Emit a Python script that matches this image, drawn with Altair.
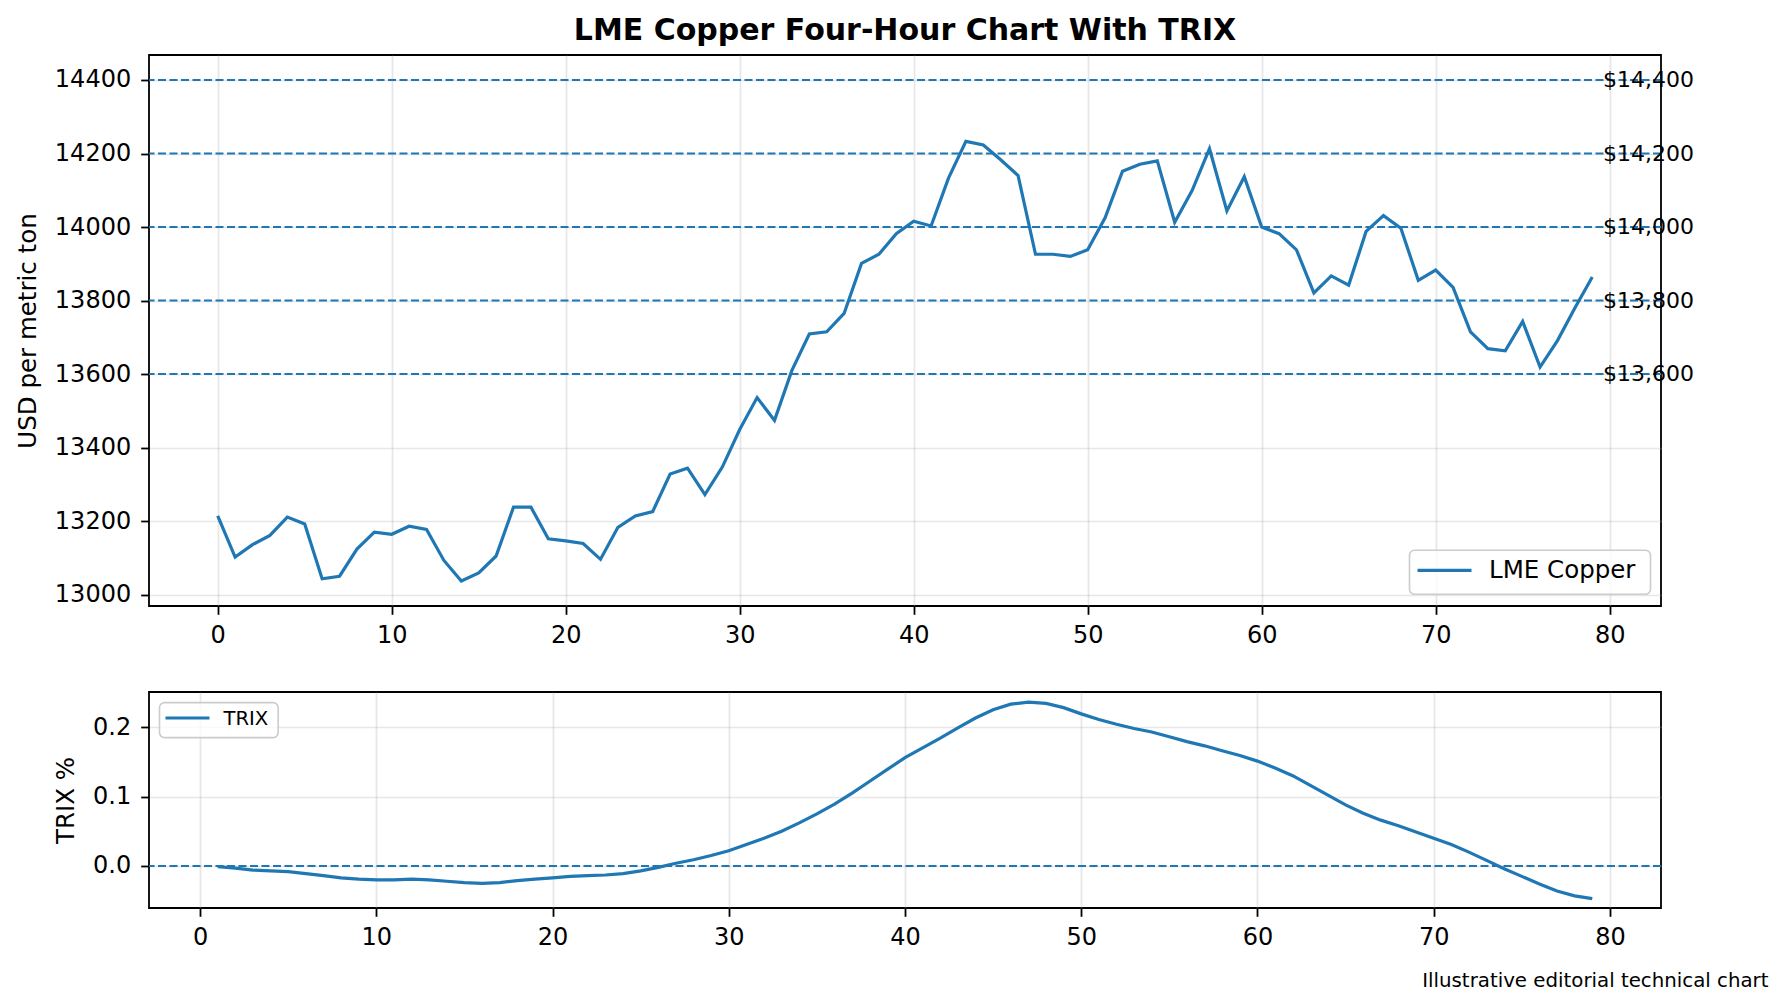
import altair as alt
import pandas as pd

# ---------------- data ----------------
price = [13214, 13102, 13136, 13161, 13211, 13192, 13043, 13050, 13124, 13170,
         13164, 13186, 13177, 13093, 13037, 13059, 13105, 13238, 13238, 13152,
         13146, 13139, 13096, 13183, 13214, 13226, 13328, 13344, 13272, 13347,
         13449, 13536, 13474, 13610, 13709, 13715, 13765, 13901, 13926, 13982,
         14016, 14003, 14133, 14233, 14223, 14183, 14140, 13926, 13926, 13920,
         13938, 14025, 14152, 14171, 14180, 14013, 14099, 14213, 14044, 14137,
         14000, 13982, 13938, 13821, 13867, 13842, 13988, 14031, 13997, 13855,
         13883, 13836, 13715, 13669, 13663, 13743, 13619, 13691, 13780, 13864]
price_idx = list(range(len(price)))

trix = [-0.001, -0.003, -0.006, -0.007, -0.008, -0.011, -0.014, -0.017, -0.019, -0.020,
        -0.020, -0.019, -0.020, -0.022, -0.024, -0.025, -0.024, -0.021, -0.019, -0.017,
        -0.015, -0.014, -0.013, -0.011, -0.007, -0.002, 0.004, 0.009, 0.015, 0.022,
        0.031, 0.040, 0.050, 0.062, 0.075, 0.089, 0.105, 0.122, 0.139, 0.156,
        0.170, 0.184, 0.199, 0.213, 0.225, 0.233, 0.236, 0.234, 0.228, 0.219,
        0.211, 0.204, 0.198, 0.193, 0.186, 0.179, 0.173, 0.166, 0.159, 0.151,
        0.141, 0.130, 0.116, 0.102, 0.088, 0.076, 0.066, 0.058, 0.049, 0.040,
        0.031, 0.020, 0.008, -0.004, -0.015, -0.026, -0.036, -0.043, -0.047]
trix_idx = list(range(1, len(trix) + 1))

levels = [13600, 13800, 14000, 14200, 14400]
zero_level = [0.0]

x_ticks = [0, 10, 20, 30, 40, 50, 60, 70, 80]
price_ticks = [13000, 13200, 13400, 13600, 13800, 14000, 14200, 14400]
trix_ticks = [0.0, 0.1, 0.2]

title_text = "LME Copper Four-Hour Chart With TRIX"
price_series = "LME Copper"
trix_series = "TRIX"
price_axis_title = "USD per metric ton"
trix_axis_title = "TRIX %"
caption_text = "Illustrative editorial technical chart"

# ---------------- style ----------------
BLUE = "#1f77b4"
FONT = "DejaVu Sans"
W = 1512
H1 = 551
H2 = 216
TICK_FS = 24
AXTITLE_FS = 24.5

price_df = pd.DataFrame({"i": price_idx, "price": price})
trix_df = pd.DataFrame({"i": trix_idx, "trix": trix})
levels_df = pd.DataFrame({"level": levels})
zero_df = pd.DataFrame({"level": zero_level})


def x_axis():
    return alt.Axis(values=x_ticks, format="d", title=None, grid=True,
                    gridColor="#b0b0b0", gridOpacity=0.3, gridWidth=1.7,
                    domain=False, tickColor="black", tickWidth=1.8, tickSize=8.3,
                    labelFontSize=TICK_FS, labelColor="black", labelPadding=9,
                    labelFont=FONT, labelFlush=False)


def y_axis(values, fmt, title):
    return alt.Axis(values=values, format=fmt, title=title, grid=True,
                    gridColor="#b0b0b0", gridOpacity=0.3, gridWidth=1.7,
                    domain=False, tickColor="black", tickWidth=1.8, tickSize=8.3,
                    labelFontSize=TICK_FS, labelColor="black", labelPadding=10,
                    labelFont=FONT, titleFont=FONT, titleFontSize=AXTITLE_FS,
                    titleFontWeight="normal", titleColor="black", titlePadding=14)


x_price = alt.Scale(domain=[-3.95, 82.95], nice=False, zero=False)
y_price = alt.Scale(domain=[12969, 14468], nice=False, zero=False)
x_trix = alt.Scale(domain=[-2.9, 82.9], nice=False, zero=False)
y_trix = alt.Scale(domain=[-0.0605, 0.2505], nice=False, zero=False)

# ---------------- upper panel ----------------
price_line = alt.Chart(price_df).mark_line(color=BLUE, strokeWidth=3.2).encode(
    x=alt.X("i:Q", scale=x_price, axis=x_axis()),
    y=alt.Y("price:Q", scale=y_price, axis=y_axis(price_ticks, "d", price_axis_title)),
)

level_rules = alt.Chart(levels_df).mark_rule(
    color=BLUE, strokeWidth=2, strokeDash=[8, 3.5]
).encode(y=alt.Y("level:Q", scale=y_price))

level_labels = alt.Chart(levels_df).mark_text(
    align="left", baseline="middle", fontSize=22, font=FONT, color="black"
).encode(
    x=alt.datum(79.62, scale=x_price),
    y=alt.Y("level:Q", scale=y_price),
    text=alt.Text("level:Q", format="$,.0f"),
)

legend_src = alt.Data(values=[{"label": price_series}])
leg_box = alt.Chart(legend_src).mark_rect(
    fill="white", fillOpacity=0.8, stroke="#cccccc", strokeWidth=1.6, cornerRadius=5
).encode(x=alt.value(1260.5), x2=alt.value(1501.5), y=alt.value(495.3), y2=alt.value(539.3))
leg_line = alt.Chart(legend_src).mark_rule(color=BLUE, strokeWidth=3.2).encode(
    x=alt.value(1268.5), x2=alt.value(1322.5), y=alt.value(515.3))
leg_text = alt.Chart(legend_src).mark_text(
    align="left", baseline="middle", fontSize=24.5, font=FONT, color="black"
).encode(x=alt.value(1340), y=alt.value(516), text="label:N")

title_src = alt.Data(values=[{"t": title_text}])
title_mark = alt.Chart(title_src).mark_text(
    align="center", baseline="middle", fontSize=30, font=FONT, fontWeight="bold", color="black"
).encode(x=alt.value(W / 2), y=alt.value(-23.7), text="t:N")

upper = alt.layer(
    price_line, level_rules, level_labels, leg_box, leg_line, leg_text, title_mark
).properties(width=W, height=H1)

# ---------------- lower panel ----------------
trix_line = alt.Chart(trix_df).mark_line(color=BLUE, strokeWidth=3.2).encode(
    x=alt.X("i:Q", scale=x_trix, axis=x_axis()),
    y=alt.Y("trix:Q", scale=y_trix, axis=y_axis(trix_ticks, ".1f", trix_axis_title)),
)

zero_rule = alt.Chart(zero_df).mark_rule(
    color=BLUE, strokeWidth=2, strokeDash=[8, 3.5]
).encode(y=alt.Y("level:Q", scale=y_trix))

legend2_src = alt.Data(values=[{"label": trix_series}])
leg2_box = alt.Chart(legend2_src).mark_rect(
    fill="white", fillOpacity=0.8, stroke="#cccccc", strokeWidth=1.6, cornerRadius=5
).encode(x=alt.value(10.5), x2=alt.value(129.2), y=alt.value(10.6), y2=alt.value(45.6))
leg2_line = alt.Chart(legend2_src).mark_rule(color=BLUE, strokeWidth=3.2).encode(
    x=alt.value(16.5), x2=alt.value(60.5), y=alt.value(26))
leg2_text = alt.Chart(legend2_src).mark_text(
    align="left", baseline="middle", fontSize=19.6, font=FONT, color="black"
).encode(x=alt.value(74.5), y=alt.value(26.5), text="label:N")

caption_src = alt.Data(values=[{"c": caption_text}])
caption = alt.Chart(caption_src).mark_text(
    align="right", baseline="middle", fontSize=19.8, font=FONT, color="black"
).encode(x=alt.value(1619.5), y=alt.value(288.6), text="c:N")

lower = alt.layer(
    trix_line, zero_rule, leg2_box, leg2_line, leg2_text, caption
).properties(width=W, height=H2)

chart = alt.vconcat(upper, lower, spacing=42).configure(
    font=FONT,
    padding={"left": 6, "top": 7, "right": 5, "bottom": 5},
    background="white",
).configure_view(stroke="black", strokeWidth=1.8)

chart.save("out.html", embed_options={"renderer": "svg", "actions": False})
